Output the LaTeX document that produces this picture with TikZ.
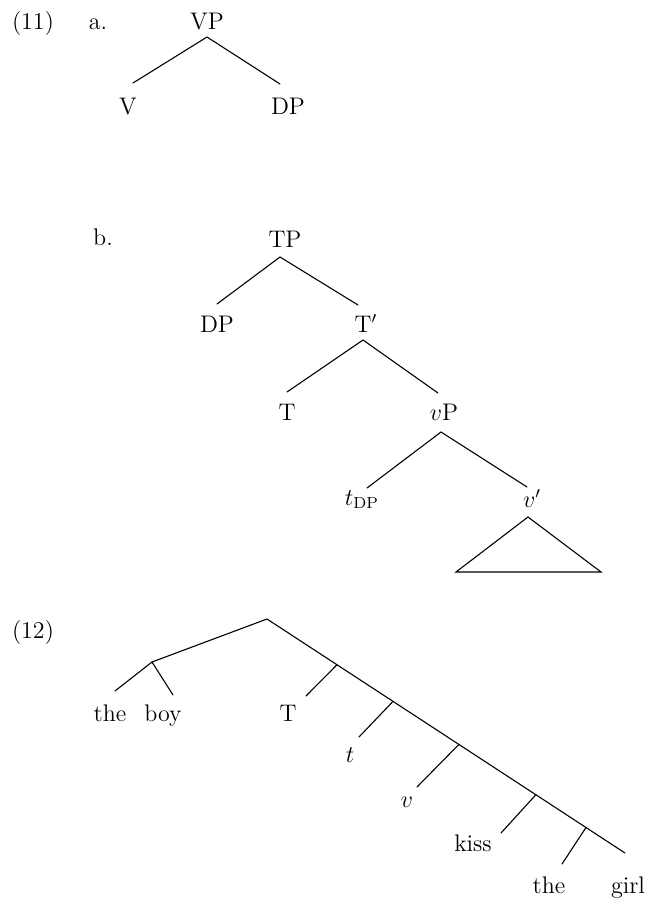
\documentclass[tikz,border=0pt]{standalone}
\usetikzlibrary{calc}
\begin{document}
\begin{tikzpicture}[x=0.5pt,y=-0.5pt,
  lab/.style={anchor=base,inner sep=0pt,font=\fontsize{12}{14}\selectfont},
  br/.style={line width=0.55pt,line cap=round}]
\useasboundingbox (0,0) rectangle (648,904);
% ---------- (11a)
\node[lab] (n11) at (33,30) {(11)};
\node[lab] (na) at (98,30) {a.};
\node[lab] (VP) at (207,30) {VP};
\node[lab] (V) at (128,115) {V};
\node[lab] (DPa) at (288,115) {DP};
\coordinate (aT) at (207,37);
\coordinate (aL) at (133,83);
\coordinate (aR) at (280,84);
\draw[br] (aL) -- (aT) -- (aR);
% ---------- (11b)
\node[lab] (nb) at (103,245) {b.};
\node[lab] (TP) at (285,247) {TP};
\node[lab] (DPb) at (217,332) {DP};
\node[lab] (Tbar) at (366,332) {T$'$};
\node[lab] (T) at (287,420) {T};
\node[lab] (vP) at (444,420) {$v$P};
\node[lab] (tDP) at (362,505) {$t_{\mathrm{DP}}$};
\node[lab] (vbar) at (532,507) {$v'$};
\coordinate (bT) at (280,257);
\coordinate (bL) at (217,304);
\coordinate (bR) at (358,305);
\coordinate (cT) at (363,340);
\coordinate (cL) at (287,392);
\coordinate (cR) at (438,393);
\coordinate (dT) at (441,432);
\coordinate (dL) at (367,488);
\coordinate (dR) at (527,487);
\coordinate (eT) at (528,517);
\coordinate (eL) at (456,572);
\coordinate (eR) at (601,572);
\draw[br] (bL) -- (bT) -- (bR);
\draw[br] (cL) -- (cT) -- (cR);
\draw[br] (dL) -- (dT) -- (dR);
\draw[br] (eT) -- (eL) -- (eR) -- cycle;
% ---------- (12)
\node[lab] (n12) at (33,638) {(12)};
\node[lab] (the1) at (110,721) {the};
\node[lab] (boy) at (163,721) {boy};
\node[lab] (T2) at (288,721) {T};
\node[lab] (t2) at (350,762) {$t$};
\node[lab] (v2) at (407,807) {$v$};
\node[lab] (kiss) at (473,851) {kiss};
\node[lab] (the2) at (549,893) {the};
\node[lab] (girl) at (628,893) {girl};
\coordinate (r) at (267,619);
\coordinate (s) at (152,662);
\coordinate (s1) at (115,691);
\coordinate (s2) at (173,695);
\coordinate (g) at (625,853);
\coordinate (j1) at ($(r)!0.1955!(g)$);
\coordinate (j2) at ($(r)!0.352!(g)$);
\coordinate (j3) at ($(r)!0.536!(g)$);
\coordinate (j4) at ($(r)!0.751!(g)$);
\coordinate (j5) at ($(r)!0.891!(g)$);
\coordinate (e1) at (306,696);
\coordinate (e2) at (359,737);
\coordinate (e3) at (417,787);
\coordinate (e4) at (501,833);
\coordinate (e5) at (562,864);
\draw[br] (s) -- (r) -- (g);
\draw[br] (s1) -- (s) -- (s2);
\draw[br] (j1) -- (e1);
\draw[br] (j2) -- (e2);
\draw[br] (j3) -- (e3);
\draw[br] (j4) -- (e4);
\draw[br] (j5) -- (e5);
\end{tikzpicture}
\end{document}
